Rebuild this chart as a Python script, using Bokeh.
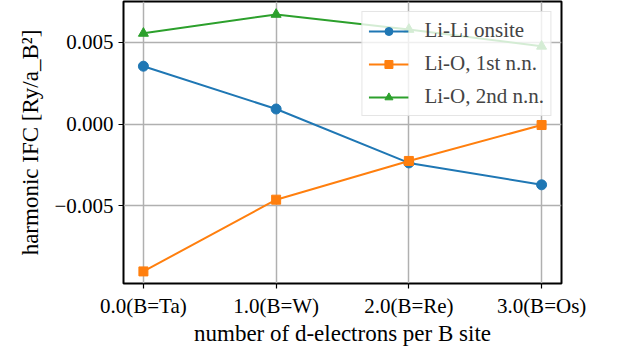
from bokeh.plotting import figure
from bokeh.models import FixedTicker, Legend, LegendItem
from bokeh.embed import file_html
from bokeh.resources import INLINE

x = [0.0, 1.0, 2.0, 3.0]
x_tick_labels = ["0.0(B=Ta)", "1.0(B=W)", "2.0(B=Re)", "3.0(B=Os)"]
y_ticks = [-0.005, 0.0, 0.005]
y_tick_labels = ["\u22120.005", "0.000", "0.005"]

li_li_onsite = [0.00354, 0.00092, -0.00238, -0.00372]
li_o_1st = [-0.00902, -0.00463, -0.00226, -0.00006]
li_o_2nd = [0.00555, 0.00671, 0.00579, 0.00476]

names = ["Li-Li onsite", "Li-O, 1st n.n.", "Li-O, 2nd n.n."]
colors = ["#1f77b4", "#ff7f0e", "#2ca02c"]
markers = ["circle", "square", "triangle"]

FONT = "'Liberation Serif', serif"

p = figure(width=617, height=351, x_range=(-0.15, 3.15), y_range=(-0.00976, 0.0075),
           output_backend="svg", toolbar_location=None,
           min_border_left=123, min_border_right=56, min_border_top=1, min_border_bottom=68)

p.outline_line_color = "black"
p.outline_line_width = 2

for ax in (p.xaxis[0], p.yaxis[0]):
    ax.axis_line_color = None
    ax.major_tick_line_color = "black"
    ax.major_tick_line_width = 1.2
    ax.major_tick_out = 5
    ax.major_tick_in = 0
    ax.minor_tick_line_color = None
    ax.major_label_text_font = FONT
    ax.major_label_text_font_size = "21px"
    ax.major_label_text_font_style = "normal"
    ax.major_label_text_color = "black"
    ax.axis_label_text_font = FONT
    ax.axis_label_text_font_size = "23px"
    ax.axis_label_text_font_style = "normal"
    ax.axis_label_text_color = "black"

p.xaxis.ticker = FixedTicker(ticks=x)
p.xaxis.major_label_overrides = {v: s for v, s in zip(x, x_tick_labels)}
p.yaxis.ticker = FixedTicker(ticks=y_ticks)
p.yaxis.major_label_overrides = {v: s for v, s in zip(y_ticks, y_tick_labels)}
p.xaxis.axis_label = "number of d-electrons per B site"
p.yaxis.axis_label = "harmonic IFC [Ry/a_B\u00b2]"
p.xaxis.axis_label_standoff = 0
p.yaxis.axis_label_standoff = 8

p.xgrid.grid_line_color = "#b0b0b0"
p.ygrid.grid_line_color = "#b0b0b0"
p.xgrid.grid_line_width = 1.5
p.ygrid.grid_line_width = 1.5

items = []
for ys, name, c, m in zip([li_li_onsite, li_o_1st, li_o_2nd], names, colors, markers):
    r1 = p.line(x, ys, line_color=c, line_width=2)
    r2 = p.scatter(x, ys, marker=m, size=10 if m != "square" else 9, fill_color=c, line_color=c)
    items.append(LegendItem(label=name, renderers=[r1, r2]))

legend = Legend(items=items, location="top_right", margin=10,
                label_text_font=FONT, label_text_font_size="21px",
                label_text_font_style="normal",
                glyph_width=40, glyph_height=20, label_standoff=16,
                padding=6, spacing=8,
                background_fill_color="white", background_fill_alpha=0.8,
                border_line_color="#cccccc", border_line_width=1.5)
p.add_layout(legend)

open("out.html", "w").write(file_html(p, INLINE))
